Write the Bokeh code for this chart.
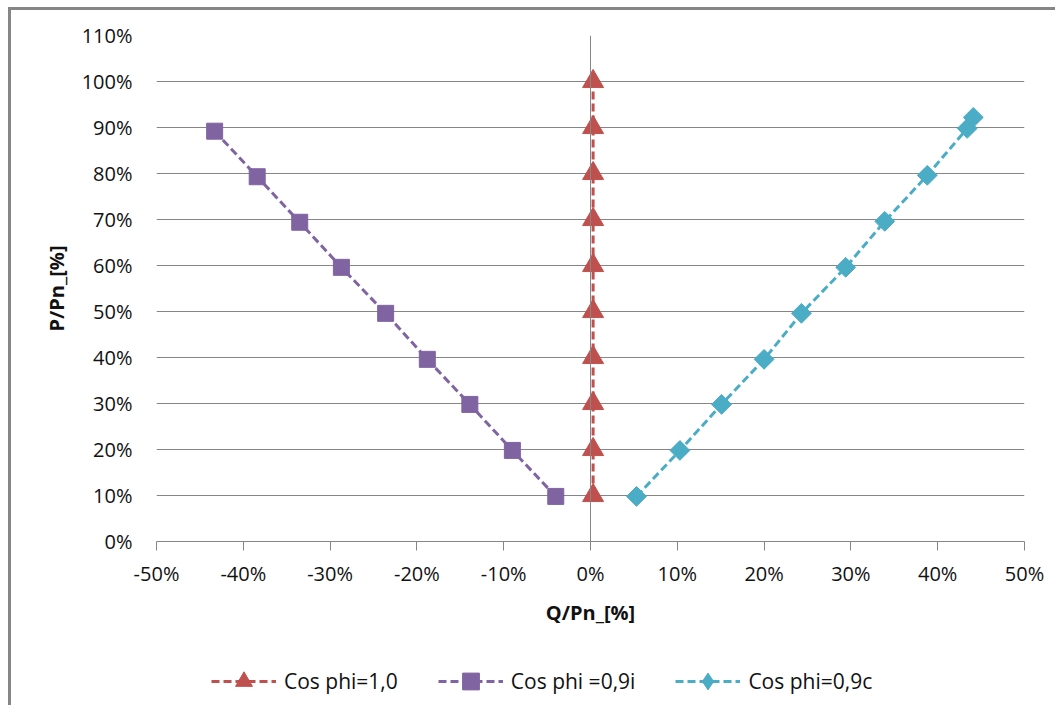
from bokeh.plotting import figure
from bokeh.layouts import column
from bokeh.models import (Legend, LegendItem, Span, PrintfTickFormatter,
                          FixedTicker, Range1d)
from bokeh.embed import file_html
from bokeh.resources import INLINE
import math

# ---- data (percent) ----
red_x = [0.3, 0.3, 0.3, 0.3, 0.3, 0.3, 0.3, 0.3, 0.3, 0.3]
red_y = [10, 20, 30, 40, 50, 60, 70, 80, 90, 100]

purple_x = [-43.3, -38.4, -33.5, -28.7, -23.6, -18.8, -13.9, -9.0, -4.0]
purple_y = [89.2, 79.3, 69.4, 59.6, 49.6, 39.6, 29.8, 19.8, 9.8]

cyan_x = [5.3, 10.3, 15.1, 20.0, 24.3, 29.4, 33.9, 38.8, 43.4, 44.1]
cyan_y = [9.8, 19.8, 29.8, 39.6, 49.6, 59.6, 69.6, 79.6, 89.8, 92.2]

x_ticks = [-50, -40, -30, -20, -10, 0, 10, 20, 30, 40, 50]
y_ticks = [0, 10, 20, 30, 40, 50, 60, 70, 80, 90, 100, 110]

series_names = ["Cos phi=1,0", "Cos phi =0,9i", "Cos phi=0,9c"]
colors = ["#C0504D", "#8064A2", "#4BACC6"]

FONT = "Open Sans"
GRID = "#868686"
DASH = "8 4"

p = figure(width=1044, height=645, output_backend="svg", toolbar_location=None,
           x_range=Range1d(-50, 50), y_range=Range1d(0, 110),
           min_border_left=145, min_border_top=25, min_border_right=31,
           min_border_bottom=114)
p.outline_line_color = None
p.background_fill_color = "white"
p.border_fill_color = "white"

# grids
p.xgrid.grid_line_color = None
p.ygrid.grid_line_color = GRID
p.ygrid.grid_line_width = 1
p.ygrid.ticker = FixedTicker(ticks=y_ticks)

# x axis
p.xaxis.ticker = FixedTicker(ticks=x_ticks)
p.xaxis.formatter = PrintfTickFormatter(format="%d%%")
p.xaxis.axis_line_color = GRID
p.xaxis.major_tick_line_color = GRID
p.xaxis.major_tick_out = 9
p.xaxis.major_tick_in = 0
p.xaxis.minor_tick_line_color = None
p.xaxis.major_label_standoff = 9
p.xaxis.major_label_text_font = FONT
p.xaxis.major_label_text_font_size = "20px"
p.xaxis.major_label_text_color = "#111111"
p.xaxis.axis_label = "Q/Pn_[%]"
p.xaxis.axis_label_text_font = FONT
p.xaxis.axis_label_text_font_size = "20px"
p.xaxis.axis_label_text_font_style = "bold"
p.xaxis.axis_label_text_color = "#111111"
p.xaxis.axis_label_standoff = 9

# y axis
p.yaxis.ticker = FixedTicker(ticks=y_ticks)
p.yaxis.formatter = PrintfTickFormatter(format="%d%%")
p.yaxis.axis_line_color = None
p.yaxis.major_tick_line_color = None
p.yaxis.minor_tick_line_color = None
p.yaxis.major_tick_out = 0
p.yaxis.major_tick_in = 0
p.yaxis.major_label_standoff = 24
p.yaxis.major_label_text_font = FONT
p.yaxis.major_label_text_font_size = "20px"
p.yaxis.major_label_text_color = "#111111"
p.yaxis.axis_label = "P/Pn_[%]"
p.yaxis.axis_label_text_font = FONT
p.yaxis.axis_label_text_font_size = "20px"
p.yaxis.axis_label_text_font_style = "bold"
p.yaxis.axis_label_text_color = "#111111"
p.yaxis.axis_label_standoff = 9

# vertical axis line at x=0
p.add_layout(Span(location=0, dimension="height", line_color=GRID, line_width=1))

p.line(red_x, red_y, line_color=colors[0], line_width=3, line_dash=DASH)
p.scatter(red_x, red_y, marker="triangle", size=21,
          fill_color=colors[0], line_color=colors[0])

p.line(purple_x, purple_y, line_color=colors[1], line_width=3, line_dash=DASH)
p.scatter(purple_x, purple_y, marker="square", size=16,
          fill_color=colors[1], line_color=colors[1])

p.line(cyan_x, cyan_y, line_color=colors[2], line_width=3, line_dash=DASH)
p.scatter(cyan_x, cyan_y, marker="square", size=14, angle=math.pi / 4,
          fill_color=colors[2], line_color=colors[2])

# ---- legend strip below the chart (proxy renderers lie outside its ranges) ----
q = figure(width=1044, height=50, output_backend="svg", toolbar_location=None,
           x_axis_type=None, y_axis_type=None, min_border=0,
           x_range=Range1d(1000, 1001), y_range=Range1d(1000, 1001))
q.outline_line_color = None
q.xgrid.grid_line_color = None
q.ygrid.grid_line_color = None
q.border_fill_color = "white"

items = []
l0 = q.line(red_x[:1], red_y[:1], line_color=colors[0], line_width=3, line_dash=DASH)
m0 = q.scatter(red_x[:1], red_y[:1], marker="triangle",
               fill_color=colors[0], line_color=colors[0])
items.append(LegendItem(label=series_names[0], renderers=[l0, m0]))
l1 = q.line(purple_x[:1], purple_y[:1], line_color=colors[1], line_width=3, line_dash=DASH)
m1 = q.scatter(purple_x[:1], purple_y[:1], marker="square",
               fill_color=colors[1], line_color=colors[1])
items.append(LegendItem(label=series_names[1], renderers=[l1, m1]))
l2 = q.line(cyan_x[:1], cyan_y[:1], line_color=colors[2], line_width=3, line_dash=DASH)
m2 = q.scatter(cyan_x[:1], cyan_y[:1], marker="diamond",
               fill_color=colors[2], line_color=colors[2])
items.append(LegendItem(label=series_names[2], renderers=[l2, m2]))

legend = Legend(items=items, orientation="horizontal", location=(55, 3),
                glyph_width=65, glyph_height=42, label_standoff=8, spacing=40,
                padding=0, margin=0, border_line_color=None,
                background_fill_alpha=0,
                label_text_font=FONT, label_text_font_size="21px",
                label_text_color="#111111")
q.add_layout(legend, "center")

layout = column(p, q, spacing=0)
layout.margin = (7, 0, 0, 8)
layout.styles = {"border-left": "3px solid #868686", "border-top": "3px solid #868686"}

open("out.html", "w").write(file_html(layout, INLINE))
